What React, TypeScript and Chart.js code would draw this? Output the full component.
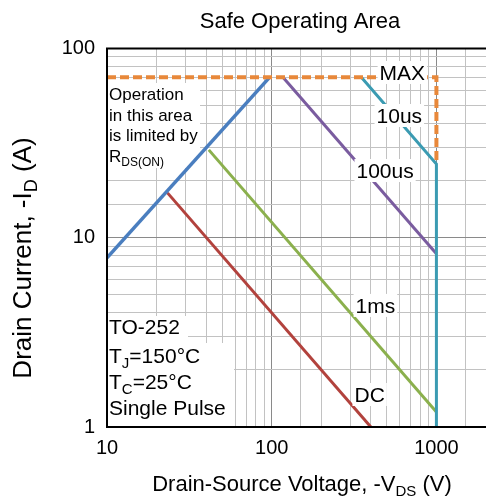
import React, { useEffect, useRef } from 'react';
import { Chart, registerables } from 'chart.js';
Chart.register(...registerables);

// ---- data ----
const xMin = 10;
const xMax = 2000;
const yMin = 1;
const yMax = 100;
const xTickLabels = [10, 100, 1000];
const yTickLabels = [1, 10, 100];

const maxV = [10, 1000, 1000];
const maxI = [70, 70, 24.4];
const rdsV = [10, 97];
const rdsI = [7.8, 70];
const us10V = [350, 1000, 1000];
const us10I = [70, 24.4, 1];
const us100V = [117, 1000];
const us100I = [70, 8.2];
const ms1V = [41.5, 1000];
const ms1I = [29, 1.2];
const dcV = [23.3, 400];
const dcI = [17.2, 1];

const curveLabels = ['MAX', '10us', '100us', '1ms', 'DC'];
const curveLabelV = [452, 433, 327, 323, 318];
const curveLabelI = [67.8, 40.2, 20.6, 4.0, 1.355];

const FONT = '"Liberation Sans", Arial, sans-serif';

const pts = (xs: number[], ys: number[]) => xs.map((x, i) => ({ x, y: ys[i] }));
const isPow10 = (v: number) => Math.abs(Math.log10(v) - Math.round(Math.log10(v))) < 1e-9;

type Seg = { t: string; sub?: boolean };

function drawRich(ctx: CanvasRenderingContext2D, x: number, y: number, segs: Seg[], size: number, align: 'left' | 'center' = 'left') {
  const subSize = Math.round(size * 0.7);
  const parts = segs.map((s) => {
    const fs = s.sub ? subSize : size;
    ctx.font = `${fs}px ${FONT}`;
    return { ...s, fs, w: ctx.measureText(s.t).width };
  });
  const total = parts.reduce((a, p) => a + p.w, 0);
  let cx = align === 'center' ? x - total / 2 : x;
  ctx.textBaseline = 'alphabetic';
  ctx.textAlign = 'left';
  for (const p of parts) {
    ctx.font = `${p.fs}px ${FONT}`;
    ctx.fillText(p.t, cx, p.sub ? y + size * 0.22 : y);
    cx += p.w;
  }
  return total;
}

const annotPlugin = {
  id: 'annot',
  beforeDatasetsDraw(chart: any) {
    const ctx = chart.ctx as CanvasRenderingContext2D;
    const a = chart.chartArea;
    ctx.save();
    ctx.fillStyle = '#fff';
    // Operation box
    ctx.fillRect(a.left + 1, a.top + 35, 92, 85);
    // TO-252 boxes
    ctx.fillRect(a.left + 1, a.top + 268, 80, 27);
    ctx.fillRect(a.left + 1, a.top + 295, 126, a.bottom - a.top - 296);
    ctx.fillStyle = '#000';
    const lx = a.left + 2;
    drawRich(ctx, lx, a.top + 52, [{ t: 'Operation' }], 17);
    drawRich(ctx, lx, a.top + 73, [{ t: 'in this area' }], 17);
    drawRich(ctx, lx, a.top + 93, [{ t: 'is limited by' }], 17);
    drawRich(ctx, lx, a.top + 114, [{ t: 'R' }, { t: 'DS(ON)', sub: true }], 17);
    drawRich(ctx, lx, a.top + 286, [{ t: 'TO-252' }], 21);
    drawRich(ctx, lx, a.top + 315, [{ t: 'T' }, { t: 'J', sub: true }, { t: '=150°C' }], 21);
    drawRich(ctx, lx, a.top + 341, [{ t: 'T' }, { t: 'C', sub: true }, { t: '=25°C' }], 21);
    drawRich(ctx, lx, a.top + 367, [{ t: 'Single Pulse' }], 21);
    ctx.restore();
  },
  afterDatasetsDraw(chart: any) {
    const ctx = chart.ctx as CanvasRenderingContext2D;
    const xs = chart.scales.x;
    const ys = chart.scales.y;
    const a = chart.chartArea;
    ctx.save();
    curveLabels.forEach((t, i) => {
      const px = xs.getPixelForValue(curveLabelV[i]);
      const py = ys.getPixelForValue(curveLabelI[i]);
      ctx.font = `21px ${FONT}`;
      const w = ctx.measureText(t).width;
      ctx.fillStyle = '#fff';
      ctx.fillRect(px - 2, py - 19, w + 4, 23);
      ctx.fillStyle = '#000';
      drawRich(ctx, px, py, [{ t }], 21);
    });
    // frame
    ctx.strokeStyle = '#000';
    ctx.lineWidth = 2;
    ctx.beginPath();
    ctx.moveTo(a.right, a.top + 0.5);
    ctx.lineTo(a.left, a.top + 0.5);
    ctx.lineTo(a.left, a.bottom);
    ctx.lineTo(a.right, a.bottom);
    ctx.stroke();
    ctx.restore();
  },
  afterDraw(chart: any) {
    const ctx = chart.ctx as CanvasRenderingContext2D;
    ctx.save();
    ctx.fillStyle = '#000';
    drawRich(ctx, 300, 28, [{ t: 'Safe Operating Area' }], 22, 'center');
    drawRich(ctx, 302, 491, [{ t: 'Drain-Source Voltage, -V' }, { t: 'DS', sub: true }, { t: ' (V)' }], 22, 'center');
    ctx.translate(31, 258);
    ctx.rotate(-Math.PI / 2);
    drawRich(ctx, 0, 0, [{ t: 'Drain Current, -I' }, { t: 'D', sub: true }, { t: ' (A)' }], 26, 'center');
    ctx.restore();
  },
};

export default function App() {
  const ref = useRef<HTMLCanvasElement>(null);
  useEffect(() => {
    if (!ref.current) return;
    const line = (data: any, color: string, extra: any = {}) => ({
      data,
      borderColor: color,
      backgroundColor: color,
      borderWidth: 3,
      showLine: true,
      pointRadius: 0,
      fill: false,
      ...extra,
    });
    const chart = new Chart(ref.current, {
      type: 'scatter',
      data: {
        datasets: [
          line(pts(maxV, maxI), '#e8883a', { borderDash: [9, 4], borderWidth: 4 }),
          line(pts(rdsV, rdsI), '#4a7ebf', { borderWidth: 3.5 }),
          line(pts(us10V, us10I), '#3b9bb2'),
          line(pts(us100V, us100I), '#7a5c9f'),
          line(pts(ms1V, ms1I), '#8bb04d'),
          line(pts(dcV, dcI), '#b2423d'),
        ],
      },
      options: {
        animation: false,
        responsive: false,
        events: [],
        layout: { padding: { top: 48, right: 0, left: 0, bottom: 0 } },
        plugins: { legend: { display: false }, tooltip: { enabled: false }, title: { display: false } },
        scales: {
          x: {
            type: 'logarithmic',
            min: xMin,
            max: xMax,
            afterFit: (s: any) => { s.height = 73; s.paddingRight = 0; s.paddingLeft = 0; },
            grid: {
              drawTicks: false,
              color: (c: any) => (c.tick && isPow10(c.tick.value) ? '#8a8a8a' : '#c2c2c2'),
              lineWidth: 1,
            },
            border: { display: false },
            ticks: {
              autoSkip: false,
              maxRotation: 0,
              padding: 9,
              color: '#000',
              font: { family: FONT, size: 20 },
              callback: (v: any) => (xTickLabels.includes(Number(v)) ? String(v) : ''),
            },
          },
          y: {
            type: 'logarithmic',
            min: yMin,
            max: yMax,
            afterFit: (s: any) => { s.width = 107; },
            grid: {
              drawTicks: false,
              color: (c: any) => (c.tick && isPow10(c.tick.value) ? '#8a8a8a' : '#c2c2c2'),
              lineWidth: 1,
            },
            border: { display: false },
            ticks: {
              autoSkip: false,
              padding: 12,
              color: '#000',
              font: { family: FONT, size: 20 },
              callback: (v: any) => (yTickLabels.includes(Number(v)) ? String(v) : ''),
            },
          },
        },
      },
      plugins: [annotPlugin],
    } as any);
    return () => chart.destroy();
  }, []);
  return (
    <div style={{ position: 'absolute', left: 0, top: 0, width: 486, height: 500, background: '#fff' }}>
      <canvas ref={ref} width={486} height={500} style={{ display: 'block' }} />
    </div>
  );
}
